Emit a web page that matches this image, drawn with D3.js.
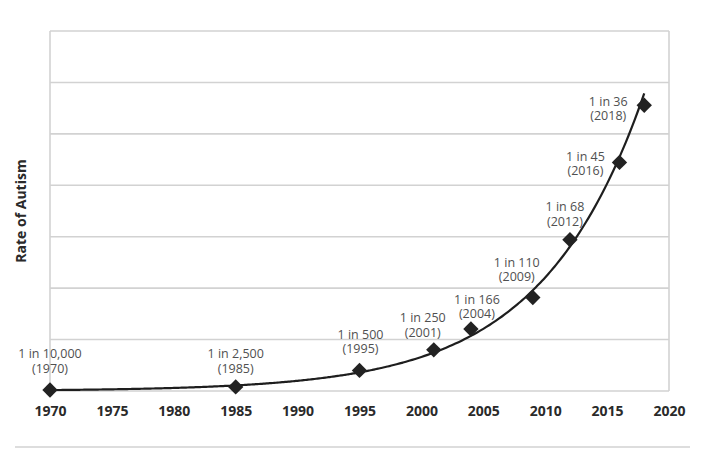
<!DOCTYPE html>
<html>
<head>
<meta charset="utf-8">
<script src="https://cdn.jsdelivr.net/npm/d3@7/dist/d3.min.js"></script>
<style>
  body { margin: 0; background: #fff; }
  svg { display: block; }
</style>
</head>
<body>
<div id="chart"></div>
<script>
// Data: year and rate written as "1 in N"
const years = [1970, 1985, 1995, 2001, 2004, 2009, 2012, 2016, 2018];
const oneIn = [10000, 2500, 500, 250, 166, 110, 68, 45, 36];
const xTicks = [1970, 1975, 1980, 1985, 1990, 1995, 2000, 2005, 2010, 2015, 2020];

// label placement relative to the marker (layout only)
const labelDx = [0, 0, 1, -11, 6, -16, -5, -34, -36];
const labelDy = [-17, -14, -17, -13, -11, -16, -14, 13, 15];

const width = 719, height = 449;
const margin = { top: 31, right: 50, bottom: 58, left: 50 };

const svg = d3.select("#chart")
  .append("svg")
  .attr("width", width)
  .attr("height", height);

// rate per 1000 children
const data = years.map((y, i) => ({ year: y, n: oneIn[i], rate: 1000 / oneIn[i] }));

const x = d3.scaleLinear()
  .domain([1970, 2020])
  .range([margin.left, width - margin.right]);

const y = d3.scaleLinear()
  .domain([0, 35])
  .range([height - margin.bottom, margin.top]);

// grid lines
svg.append("g")
  .selectAll("line")
  .data(d3.range(0, 36, 5))
  .join("line")
  .attr("x1", x(1970))
  .attr("x2", x(2020))
  .attr("y1", d => y(d))
  .attr("y2", d => y(d))
  .attr("stroke", "#d2d2d2")
  .attr("stroke-width", 1.6);

// left and right frame
svg.append("g")
  .selectAll("line")
  .data([1970, 2020])
  .join("line")
  .attr("x1", d => x(d))
  .attr("x2", d => x(d))
  .attr("y1", y(0))
  .attr("y2", y(35))
  .attr("stroke", "#d2d2d2")
  .attr("stroke-width", 1.6);

// x axis labels
const xAxis = d3.axisBottom(x)
  .tickValues(xTicks)
  .tickFormat(d3.format("d"))
  .tickSize(0)
  .tickPadding(15);

svg.append("g")
  .attr("transform", `translate(0, ${y(0)})`)
  .call(xAxis)
  .call(g => g.select(".domain").remove())
  .call(g => g.selectAll("text")
    .attr("font-family", "'Open Sans', sans-serif")
    .attr("font-weight", "bold")
    .attr("font-size", "14px")
    .attr("fill", "#2a2a2a"));

// y axis title
svg.append("text")
  .attr("transform", `translate(26, ${(y(0) + y(35)) / 2}) rotate(-90)`)
  .attr("text-anchor", "middle")
  .attr("font-family", "'Open Sans', sans-serif")
  .attr("font-weight", "bold")
  .attr("font-size", "14px")
  .attr("fill", "#2a2a2a")
  .text("Rate of Autism");

// exponential trend line fitted to the points (least squares on log rate)
const t0 = 1970;
const mt = d3.mean(data, d => d.year - t0);
const ml = d3.mean(data, d => Math.log(d.rate));
const b = d3.sum(data, d => (d.year - t0 - mt) * (Math.log(d.rate) - ml)) /
          d3.sum(data, d => (d.year - t0 - mt) ** 2);
const a = Math.exp(ml - b * mt);
const trend = d3.range(t0, 2018.01, 0.25).map(t => ({ year: t, rate: a * Math.exp(b * (t - t0)) }));

const line = d3.line()
  .x(d => x(d.year))
  .y(d => y(d.rate))
  .curve(d3.curveMonotoneX);

svg.append("path")
  .datum(trend)
  .attr("d", line)
  .attr("fill", "none")
  .attr("stroke", "#1e1e1e")
  .attr("stroke-width", 2.2);

// diamond markers
const diamond = d3.symbol().type(d3.symbolSquare).size(118);

svg.append("g")
  .selectAll("path")
  .data(data)
  .join("path")
  .attr("d", diamond)
  .attr("transform", d => `translate(${x(d.year)}, ${y(d.rate)}) rotate(45)`)
  .attr("fill", "#222");

// point labels
const fmt = d3.format(",");
const labels = svg.append("g")
  .attr("font-family", "'Open Sans', sans-serif")
  .attr("font-size", "12.5px")
  .attr("fill", "#505050")
  .attr("text-anchor", "middle");

data.forEach((d, i) => {
  const lx = x(d.year) + labelDx[i];
  const ly = y(d.rate) + labelDy[i];
  const t = labels.append("text");
  t.append("tspan")
    .attr("x", lx)
    .attr("y", ly - 14.5)
    .text(`1 in ${fmt(d.n)}`);
  t.append("tspan")
    .attr("x", lx)
    .attr("y", ly)
    .text(`(${d.year})`);
});

// bottom rule
svg.append("line")
  .attr("x1", 15)
  .attr("x2", 690)
  .attr("y1", 447)
  .attr("y2", 447)
  .attr("stroke", "#d2d2d2")
  .attr("stroke-width", 1.4);
</script>
</body>
</html>
